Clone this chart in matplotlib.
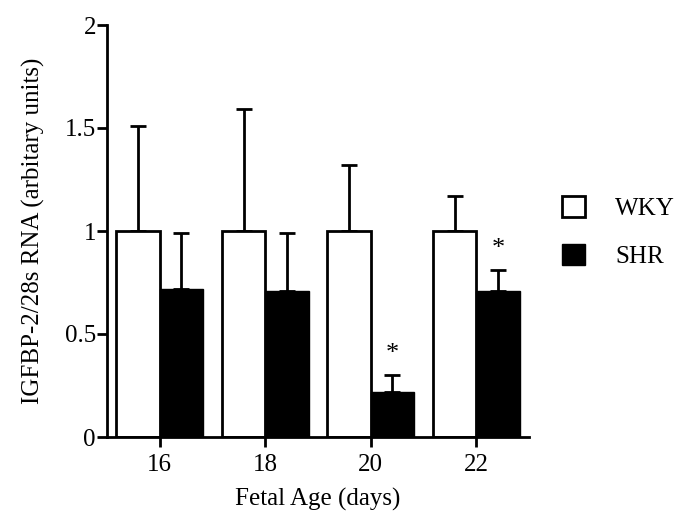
import matplotlib
matplotlib.use("Agg")
import matplotlib.pyplot as plt
import numpy as np

ages = [16, 18, 20, 22]
wky_mean = [1.0, 1.0, 1.0, 1.0]
wky_err = [0.51, 0.59, 0.32, 0.17]
shr_mean = [0.72, 0.71, 0.22, 0.71]
shr_err = [0.27, 0.28, 0.08, 0.10]
shr_sig = [False, False, True, True]
yticks = [0, 0.5, 1, 1.5, 2]
ytick_labels = ["0", "0.5", "1", "1.5", "2"]

plt.rcParams['font.family'] = ['Liberation Serif', 'DejaVu Serif']

fig = plt.figure(figsize=(6.85, 5.26), dpi=100)
ax = fig.add_axes([107/685, 1-437/526, (529-107)/685, (437-25)/526])

w = 0.82
x = np.array(ages, dtype=float)
ax.bar(x - w/2, wky_mean, width=w, color='white', edgecolor='black', linewidth=2, zorder=2)
ax.bar(x + w/2, shr_mean, width=w, color='black', edgecolor='black', linewidth=1, zorder=2)

ax.errorbar(x - w/2, wky_mean, yerr=[np.zeros(4), wky_err], fmt='none', ecolor='black',
            elinewidth=2, capsize=6, capthick=2, zorder=1)
ax.errorbar(x + w/2, shr_mean, yerr=[np.zeros(4), shr_err], fmt='none', ecolor='black',
            elinewidth=2, capsize=6, capthick=2, zorder=1)

for xi, m, e, s in zip(x + w/2, shr_mean, shr_err, shr_sig):
    if s:
        ax.text(xi, m + e + 0.05, '*', ha='center', va='bottom', fontsize=19)

ax.set_xlim(15, 23)
ax.set_ylim(0, 2)
ax.set_xticks(ages)
ax.set_xticklabels([str(a) for a in ages], fontsize=18)
ax.set_yticks(yticks)
ax.set_yticklabels(ytick_labels, fontsize=18)
for s in ['top', 'right']:
    ax.spines[s].set_visible(False)
for s in ['left', 'bottom']:
    ax.spines[s].set_linewidth(2)
ax.tick_params(width=2, length=7)
ax.tick_params(axis='y', pad=1)
ax.tick_params(axis='x', pad=5)
ax.set_xlabel('Fetal Age (days)', fontsize=18, labelpad=9)
ax.set_ylabel('IGFBP-2/28s RNA (arbitary units)', fontsize=18, labelpad=14)

from matplotlib.patches import Patch
handles = [Patch(facecolor='white', edgecolor='black', linewidth=2, label='WKY'),
           Patch(facecolor='black', edgecolor='black', label='SHR')]
fig.legend(handles=handles, loc='center left', bbox_to_anchor=(539/685, 1-232/526),
           frameon=False, fontsize=18, handlelength=0.95, handleheight=0.95,
           handletextpad=1.2, labelspacing=0.95)

fig.savefig('out.png', dpi=100)
